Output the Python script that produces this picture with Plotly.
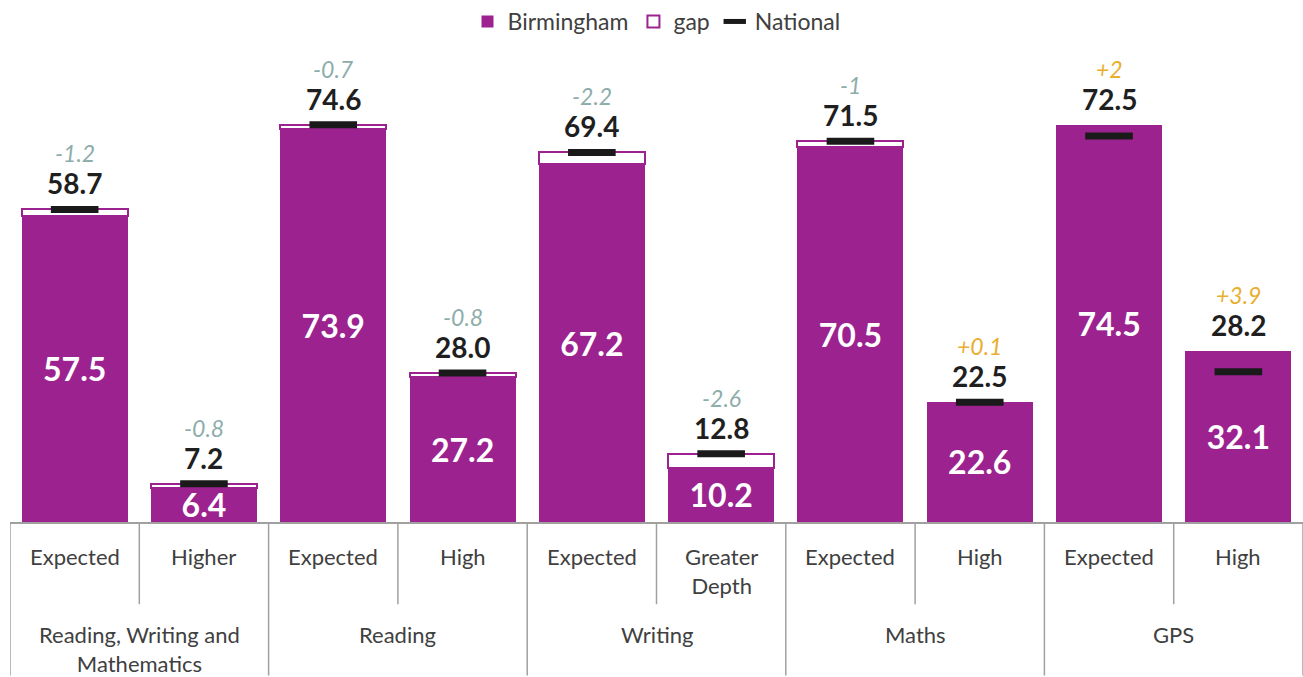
import plotly.graph_objects as go

groups = ["Reading, Writing and<br>Mathematics", "Reading", "Writing", "Maths", "GPS"]
levels = ["Expected", "Higher", "Expected", "High", "Expected", "Greater<br>Depth",
          "Expected", "High", "Expected", "High"]
birmingham = [57.5, 6.4, 73.9, 27.2, 67.2, 10.2, 70.5, 22.6, 74.5, 32.1]
national = [58.7, 7.2, 74.6, 28.0, 69.4, 12.8, 71.5, 22.5, 72.5, 28.2]
gap_labels = ["-1.2", "-0.8", "-0.7", "-0.8", "-2.2", "-2.6", "-1", "+0.1", "+2", "+3.9"]

PURPLE = "#9C2290"
FONT = "Lato"
keys = [f"k{i}" for i in range(len(levels))]

gap = [n - b if n > b else None for b, n in zip(birmingham, national)]

fig = go.Figure()
fig.add_trace(go.Bar(
    x=keys, y=birmingham, name="Birmingham",
    marker=dict(color=PURPLE, line=dict(width=0)),
    text=[f"<b>{v:.1f}</b>" for v in birmingham],
    textposition="inside", insidetextanchor="middle",
    textfont=dict(color="white", size=32, family=FONT),
    constraintext="none",
))
fig.add_trace(go.Bar(
    x=keys, y=gap, name="gap",
    marker=dict(color="white", line=dict(color=PURPLE, width=2)),
))
fig.add_trace(go.Scatter(
    x=keys, y=national, name="National", mode="markers",
    marker=dict(symbol="line-ew", size=34, line=dict(width=7, color="#1a1a1a"), color="#1a1a1a"),
))

annotations = []
for k, b, n, g in zip(keys, birmingham, national, gap_labels):
    top = max(b, n)
    annotations.append(dict(x=k, y=top, xref="x", yref="y", text=f"<b>{n:.1f}</b>",
                            showarrow=False, yanchor="middle", yshift=26,
                            font=dict(size=28, color="#1f1f1f", family=FONT)))
    col = "#E9AE2E" if g.startswith("+") else "#8DADAB"
    annotations.append(dict(x=k, y=top, xref="x", yref="y", text=f"<i>{g}</i>",
                            showarrow=False, yanchor="middle", yshift=56,
                            font=dict(size=23, color=col, family=FONT)))

# inner category labels
for k, lab in zip(keys, levels):
    annotations.append(dict(x=k, y=-0.036, xref="x", yref="paper", text=lab,
                            showarrow=False, yanchor="top",
                            font=dict(size=22, color="#404040", family=FONT)))
# outer group labels
for gi, gname in enumerate(groups):
    annotations.append(dict(x=2 * gi + 0.5, y=-0.188, xref="x", yref="paper", text=gname,
                            showarrow=False, yanchor="top",
                            font=dict(size=22, color="#404040", family=FONT)))

shapes = []
for i in range(len(keys) + 1):
    xpos = i - 0.5
    long = (i % 2 == 0)
    shapes.append(dict(type="line", xref="x", yref="paper", x0=xpos, x1=xpos,
                       y0=0, y1=-0.297 if long else -0.159,
                       line=dict(color="#A0A0A0", width=1.5)))

fig.update_layout(
    width=1303, height=677,
    margin=dict(l=10, r=0, t=0, b=155),
    barmode="stack", bargap=0.18,
    plot_bgcolor="white", paper_bgcolor="white",
    font=dict(family=FONT, size=22, color="#404040"),
    showlegend=True,
    legend=dict(orientation="h", x=0.5, xanchor="center", y=1.01, yanchor="top",
                font=dict(size=23, color="#404040", family=FONT),
                traceorder="normal", itemwidth=30),
    xaxis=dict(showticklabels=False, showline=True, linecolor="#A0A0A0", linewidth=1.5,
               showgrid=False, zeroline=False, ticks="", range=[-0.5, 9.5]),
    yaxis=dict(visible=False, range=[0, 97.1], showgrid=False, zeroline=False),
    annotations=annotations,
    shapes=shapes,
    uniformtext=dict(minsize=32, mode="show"),
)

fig.write_html("out.html", config={"displayModeBar": False},
               post_script="document.body.style.margin='0';document.body.style.overflow='hidden';")
